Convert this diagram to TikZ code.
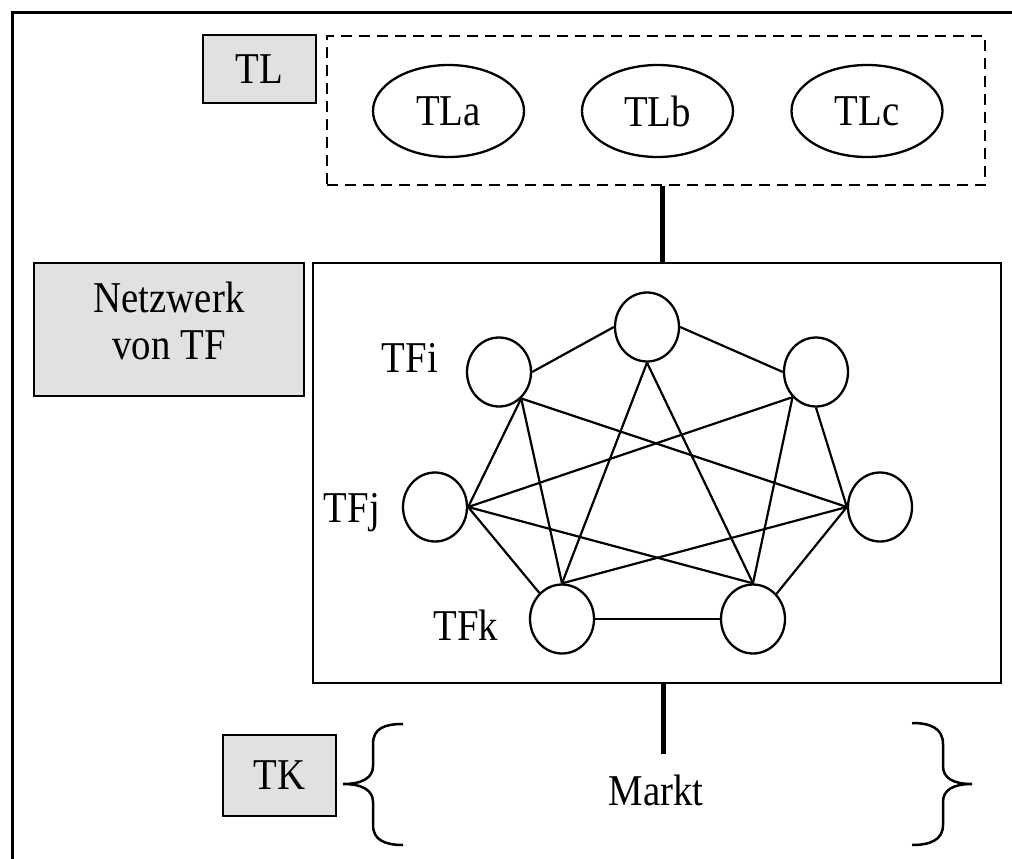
\documentclass[tikz,border=0pt]{standalone}
\usepackage{graphicx}
\usepackage{fontspec}
\setmainfont{Liberation Serif}
\usetikzlibrary{shapes.geometric}
\definecolor{boxgray}{RGB}{224,225,227}
\newcommand{\tallt}[1]{\scalebox{0.97}[1.1]{#1}}
\begin{document}
\begin{tikzpicture}[x=1pt,y=-1pt,
  txt/.style={font=\fontsize{40}{47}\selectfont},
  graybox/.style={draw, line width=2.5pt, fill=boxgray, inner sep=0pt, txt},
  plainbox/.style={draw, line width=2.5pt, inner sep=0pt},
  dashbox/.style={draw, line width=2.8pt, dash pattern=on 11pt off 7pt, inner sep=0pt},
  oval/.style={draw, ellipse, line width=2.3pt, inner sep=0pt, minimum width=151pt, minimum height=92pt, txt},
  tf/.style={draw, ellipse, line width=2.3pt, minimum width=64pt, minimum height=69pt, inner sep=0pt},
  edge/.style={line width=2.2pt},
  thickline/.style={line width=5pt},
  bracepath/.style={line width=2.5pt},
  frameline/.style={line width=3pt}
  ]
\useasboundingbox (0,0) rectangle (1012,859);
% outer frame (top and left)
\draw[frameline] (12,859) -- (12,12.5) -- (1012,12.5);

% top level
\node[graybox, minimum width=113pt, minimum height=68pt] (tl) at (259.5,69) {\tallt{TL}};
\node[dashbox, minimum width=658pt, minimum height=149pt] (tlbox) at (656,110.5) {};
\node[oval] (tla) at (448.5,111) {\tallt{TLa}};
\node[oval] (tlb) at (657.5,111) {\tallt{TLb}};
\node[oval] (tlc) at (867,111) {\tallt{TLc}};

% network
\node[graybox, minimum width=270pt, minimum height=133pt] (nw) at (169,329.5) {};
\node[txt, align=center] (nwt) at (169,321) {\tallt{Netzwerk}\\\tallt{von TF}};
\node[plainbox, minimum width=688pt, minimum height=420pt] (net) at (657,473) {};

\node[tf] (a) at (647,327) {};
\node[tf] (b) at (499,372) {};
\node[tf] (c) at (816,372) {};
\node[tf] (d) at (435,507) {};
\node[tf] (e) at (880,507) {};
\node[tf] (f) at (562,619) {};
\node[tf] (g) at (753,619) {};

\node[txt, anchor=base] (lbi) at (410,372) {\tallt{TFi}};
\node[txt, anchor=base] (lbj) at (352,522) {\tallt{TFj}};
\node[txt, anchor=base] (lbk) at (466,640) {\tallt{TFk}};

\draw[edge] (a.west) -- (b.east);
\draw[edge] (a.east) -- (c.west);
\draw[edge] (a.south) -- (f.north);
\draw[edge] (a.south) -- (g.north);
\draw[edge] (b.310) -- (d.east);
\draw[edge] (b.310) -- (f.north);
\draw[edge] (b.310) -- (e.west);
\draw[edge] (c.227) -- (d.east);
\draw[edge] (c.227) -- (g.north);
\draw[edge] (c.south) -- (e.west);
\draw[edge] (d.east) -- (f.131);
\draw[edge] (d.east) -- (g.north);
\draw[edge] (e.west) -- (f.north);
\draw[edge] (e.west) -- (g.47);
\draw[edge] (f.east) -- (g.west);

% connectors
\draw[thickline] ([xshift=6pt]tlbox.south) -- ([xshift=5pt]net.north);
\coordinate (mk) at (663,754);
\draw[thickline] (net.south -| mk) -- (mk);

% market level
\node[graybox, minimum width=113pt, minimum height=81pt] (tk) at (279.5,775.5) {\tallt{TK}};
\node[txt, anchor=base] (markt) at (656,805) {\tallt{Markt}};

\draw[bracepath] (403,724) .. controls (385,724) and (373,728) .. (373,744) -- (373,766)
  .. controls (373,778) and (362,784) .. (343,784)
  .. controls (362,784) and (373,790) .. (373,802) -- (373,825)
  .. controls (373,840) and (385,845) .. (403,845);
\draw[bracepath] (912,723) .. controls (930,723) and (943,728) .. (943,744) -- (943,766)
  .. controls (943,778) and (953,784) .. (972,784)
  .. controls (953,784) and (943,790) .. (943,802) -- (943,825)
  .. controls (943,840) and (930,845) .. (912,845);
\end{tikzpicture}
\end{document}
